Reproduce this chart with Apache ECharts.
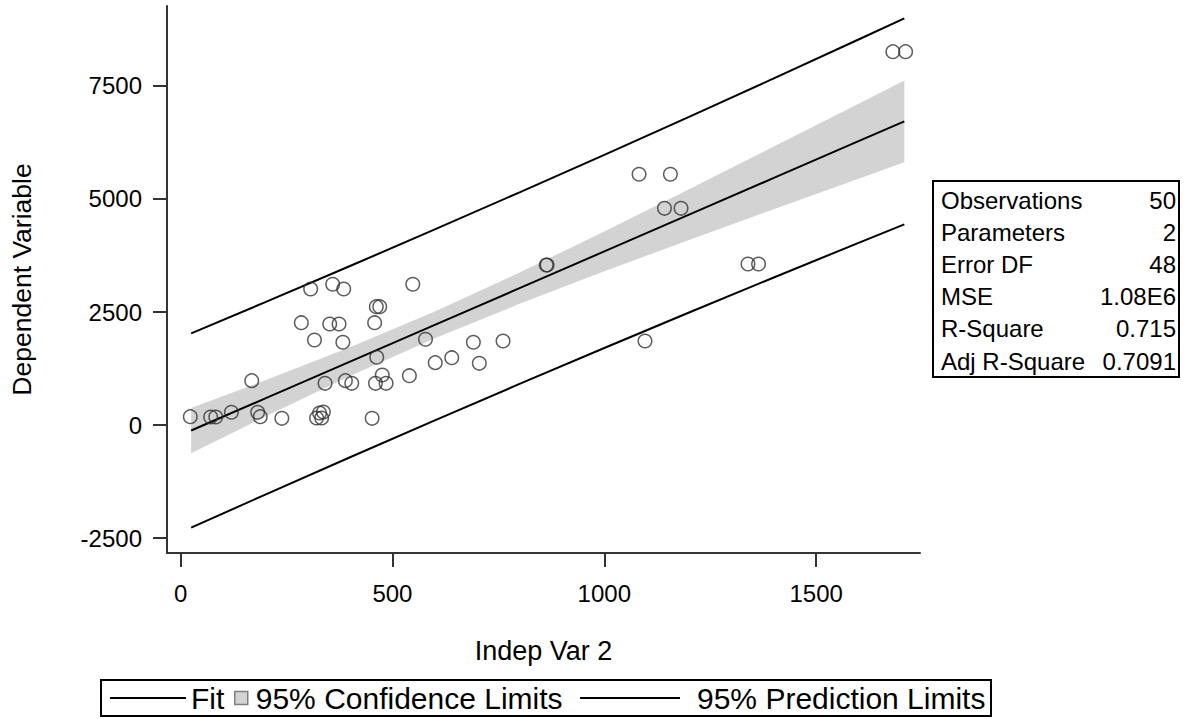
<!DOCTYPE html>
<html>
<head>
<meta charset="utf-8">
<script src="https://cdn.jsdelivr.net/npm/echarts@6/dist/echarts.min.js"></script>
<style>
html,body{margin:0;padding:0;background:#fff;}
#chart{width:1186px;height:719px;}
</style>
</head>
<body>
<div id="chart"></div>
<script>
// Observations (Indep Var 2, Dependent Variable)
const obsX = [23, 71, 83, 120, 182, 188, 239, 321, 328, 337, 333, 452,
  168, 307, 359, 385, 548, 285, 352, 374, 458, 462, 470, 316, 383, 578,
  463, 601, 640, 341, 389, 404, 460, 476, 485, 540, 691, 761, 705, 1096,
  863, 865, 1339, 1364, 1082, 1156, 1142, 1181, 1681, 1711];
const obsY = [186, 179, 179, 283, 283, 186, 150, 157, 268, 290, 157, 150,
  982, 3009, 3113, 3009, 3113, 2264, 2235, 2235, 2264, 2618, 2618, 1881, 1831, 1897,
  1499, 1380, 1490, 924, 982, 924, 924, 1108, 924, 1092, 1831, 1859, 1366, 1859,
  3540, 3540, 3562, 3562, 5545, 5545, 4793, 4793, 8256, 8256];

// Fit line and limits read along the x range
const bandX   = [25, 200, 400, 600, 800, 1000, 1200, 1400, 1600, 1708];
const fitY    = [-120, 590, 1403, 2215, 3028, 3840, 4652, 5465, 6277, 6716];
const clmLow  = [-620, 188, 1083, 1918, 2683, 3400, 4092, 4773, 5447, 5810];
const clmHigh = [380, 992, 1723, 2512, 3372, 4280, 5212, 6157, 7107, 7621];
const plmLow  = [-2268, -1537, -711, 105, 910, 1705, 2489, 3264, 4029, 4439];
const plmHigh = [2028, 2718, 3517, 4326, 5146, 5975, 6815, 7666, 8525, 8993];

const xTicks = [0, 500, 1000, 1500];
const yTicks = [-2500, 0, 2500, 5000, 7500];

const statLabels = ['Observations', 'Parameters', 'Error DF', 'MSE', 'R-Square', 'Adj R-Square'];
const statValues = ['50', '2', '48', '1.08E6', '0.715', '0.7091'];

const FONT = '"Liberation Sans", Arial, sans-serif';
const AXC = '#333';

const chart = echarts.init(document.getElementById('chart'), null, {renderer: 'svg'});

const pairs = (xs, ys) => xs.map((x, i) => [x, ys[i]]);

const graphics = [
  {type: 'rect', shape: {x: 933, y: 181, width: 246, height: 196},
   style: {fill: '#fff', stroke: '#000', lineWidth: 2}, z: 10}
];
statLabels.forEach((s, i) => {
  const cy = 200 + i * 32.2;
  graphics.push({type: 'text', x: 941, y: cy, z: 11,
    style: {text: s, font: '24px ' + FONT, fill: '#000', textAlign: 'left', textVerticalAlign: 'middle'}});
  graphics.push({type: 'text', x: 1176, y: cy, z: 11,
    style: {text: statValues[i], font: '24px ' + FONT, fill: '#000', textAlign: 'right', textVerticalAlign: 'middle'}});
});
graphics.push({type: 'rect', shape: {x: 101, y: 680, width: 890, height: 36},
  style: {fill: 'none', stroke: '#000', lineWidth: 2}, z: 10});

const legendText = (pl) => ({fontFamily: FONT, fontSize: 30, color: '#000', padding: [0, 0, 0, pl]});
const plain = v => String(v);

const option = {
  animation: false,
  backgroundColor: '#fff',
  grid: {left: 167, top: 6, width: 753, height: 547, containLabel: false},
  xAxis: {
    type: 'value', min: -32, max: 1745,
    name: 'Indep Var 2', nameLocation: 'middle', nameGap: 84,
    nameTextStyle: {fontFamily: FONT, fontSize: 27, color: '#000'},
    axisLine: {show: true, onZero: false, lineStyle: {color: AXC, width: 2}},
    axisTick: {show: true, length: 14, lineStyle: {color: AXC, width: 2}, customValues: xTicks},
    axisLabel: {fontFamily: FONT, fontSize: 24, color: '#000', margin: 28, customValues: xTicks, formatter: plain},
    splitLine: {show: false}
  },
  yAxis: {
    type: 'value', min: -2828, max: 9266,
    name: 'Dependent Variable', nameLocation: 'middle', nameGap: 132,
    nameTextStyle: {fontFamily: FONT, fontSize: 26.5, color: '#000'},
    axisLine: {show: true, onZero: false, lineStyle: {color: AXC, width: 2}},
    axisTick: {show: true, length: 14, lineStyle: {color: AXC, width: 2}, customValues: yTicks},
    axisLabel: {fontFamily: FONT, fontSize: 24, color: '#000', margin: 25, customValues: yTicks, formatter: plain},
    splitLine: {show: false}
  },
  legend: [
    {data: [{name: 'Fit', icon: 'rect'}], left: 110, top: 683, padding: 0, itemWidth: 76, itemHeight: 2,
     textStyle: legendText(0), selectedMode: false},
    {data: [{name: '95% Confidence Limits', icon: 'rect',
      itemStyle: {color: '#d3d3d3', borderColor: '#808080', borderWidth: 1.5}}],
     left: 234, top: 683, padding: 0, itemWidth: 13, itemHeight: 13, textStyle: legendText(3), selectedMode: false},
    {data: [{name: '95% Prediction Limits', icon: 'rect'}], left: 580, top: 683, padding: 0, itemWidth: 100, itemHeight: 2,
     textStyle: legendText(12), selectedMode: false}
  ],
  graphic: graphics,
  series: [
    {
      type: 'custom', name: '95% Confidence Limits', z: 1,
      itemStyle: {color: '#d3d3d3'},
      data: [[bandX[0], clmLow[0]]],
      encode: {x: 0, y: 1},
      renderItem: function (params, api) {
        const pts = [];
        for (let i = 0; i < bandX.length; i++) pts.push(api.coord([bandX[i], clmHigh[i]]));
        for (let i = bandX.length - 1; i >= 0; i--) pts.push(api.coord([bandX[i], clmLow[i]]));
        return {type: 'polygon', shape: {points: pts}, style: {fill: '#d3d3d3', stroke: null}};
      }
    },
    {type: 'line', name: 'Fit', data: pairs(bandX, fitY), showSymbol: false, z: 3,
     color: '#000', lineStyle: {color: '#000', width: 2}},
    {type: 'line', name: '95% Prediction Limits', data: pairs(bandX, plmHigh), showSymbol: false, z: 3,
     color: '#000', lineStyle: {color: '#000', width: 2}},
    {type: 'line', name: '95% Prediction Limits', data: pairs(bandX, plmLow), showSymbol: false, z: 3,
     color: '#000', lineStyle: {color: '#000', width: 2}},
    {type: 'scatter', name: 'Observations', data: pairs(obsX, obsY), symbol: 'circle', symbolSize: 13.5, z: 4,
     itemStyle: {color: 'rgba(0,0,0,0)', borderColor: '#333', borderWidth: 1.5}}
  ]
};
chart.setOption(option);
</script>
</body>
</html>
